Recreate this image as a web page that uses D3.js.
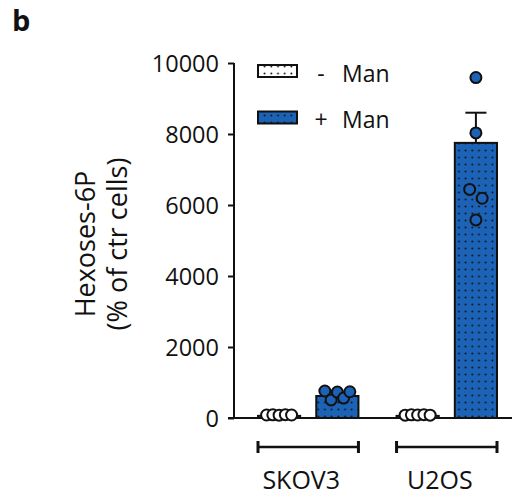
<!DOCTYPE html>
<html>
<head>
<meta charset="utf-8">
<script src="https://cdn.jsdelivr.net/npm/d3@7"></script>
<style>
  body { margin: 0; background: #fff; }
  text { font-family: "Open Sans", "Noto Sans", sans-serif; fill: #111; }
</style>
</head>
<body>
<svg id="chart" width="514" height="497"></svg>
<script>
// Cell lines and treatment conditions
const cellLines = ["SKOV3", "U2OS"];
const conditions = ["- Man", "+ Man"];

// Bar heights (mean) and SEM per cell line, one array per condition
const meanMinusMan = [60, 60];
const meanPlusMan = [620, 7750];
const semMinusMan = [10, 10];
const semPlusMan = [40, 850];

// Individual replicates
const pointsSKOV3Minus = [85, 90, 80, 95, 85];
const pointsSKOV3Plus = [760, 510, 730, 560, 740];
const pointsU2OSMinus = [80, 90, 85, 95, 80];
const pointsU2OSPlus = [9590, 8030, 6440, 6190, 5580];

// Axis ticks
const yTicks = [0, 2000, 4000, 6000, 8000, 10000];

const fills = { "- Man": "#ffffff", "+ Man": "#1c63b7" };

const rows = [
  { line: "SKOV3", cond: "- Man", mean: meanMinusMan[0], sem: semMinusMan[0], pts: pointsSKOV3Minus },
  { line: "SKOV3", cond: "+ Man", mean: meanPlusMan[0], sem: semPlusMan[0], pts: pointsSKOV3Plus },
  { line: "U2OS", cond: "- Man", mean: meanMinusMan[1], sem: semMinusMan[1], pts: pointsU2OSMinus },
  { line: "U2OS", cond: "+ Man", mean: meanPlusMan[1], sem: semPlusMan[1], pts: pointsU2OSPlus }
];

const svg = d3.select("#chart");

const y = d3.scaleLinear().domain([0, 10000]).range([418, 63]);
const x0 = d3.scaleBand().domain(cellLines).range([258, 497]).paddingInner(0.275).paddingOuter(0);
const x1 = d3.scaleBand().domain(conditions).range([0, x0.bandwidth()]).paddingInner(0.276).paddingOuter(0);

// Dotted fill patterns
const defs = svg.append("defs");
conditions.forEach((c, i) => {
  const p = defs.append("pattern")
    .attr("id", "dots" + i)
    .attr("patternUnits", "userSpaceOnUse")
    .attr("width", 6.7).attr("height", 7);
  p.append("rect").attr("width", 6.7).attr("height", 7).attr("fill", fills[c]);
  p.append("circle").attr("cx", 3.3).attr("cy", 3.5).attr("r", 0.95).attr("fill", "#111");
});
const patternFor = c => "url(#dots" + conditions.indexOf(c) + ")";

// Panel letter
svg.append("text").attr("x", 12).attr("y", 31)
  .style("font-size", "29px").style("font-weight", "700").text("b");

// Y axis
const yAxis = d3.axisLeft(y).tickValues(yTicks).tickSize(6).tickPadding(9).tickFormat(d3.format("d"));
const gy = svg.append("g").attr("transform", "translate(234,0)").call(yAxis);
gy.select(".domain").attr("stroke", "#111").attr("stroke-width", 2).attr("d", "M0," + y(10000) + "V" + y(0));
gy.selectAll(".tick line").attr("stroke", "#111").attr("stroke-width", 2);
gy.selectAll(".tick text").style("font-size", "23.5px").attr("fill", "#111")
  .style("font-family", "'Open Sans', sans-serif").attr("dy", "0.34em");

// Baseline
svg.append("line").attr("x1", 228).attr("x2", 512).attr("y1", y(0)).attr("y2", y(0))
  .attr("stroke", "#111").attr("stroke-width", 2);

// Y axis title
const title = svg.append("text").attr("transform", "translate(0,244) rotate(-90)")
  .attr("text-anchor", "middle").style("font-size", "27px");
title.append("tspan").attr("x", 0).attr("y", 95).text("Hexoses-6P");
title.append("tspan").attr("x", 0).attr("y", 127).text("(% of ctr cells)");

// Bars
const bars = svg.append("g");
bars.selectAll("rect").data(rows).join("rect")
  .attr("x", d => x0(d.line) + x1(d.cond))
  .attr("width", x1.bandwidth())
  .attr("y", d => y(d.mean))
  .attr("height", d => y(0) - y(d.mean))
  .attr("fill", d => patternFor(d.cond))
  .attr("stroke", "#111").attr("stroke-width", 2);

// Error bars (mean + SEM)
const err = svg.append("g").attr("stroke", "#111").attr("stroke-width", 2);
rows.forEach(d => {
  const cx = x0(d.line) + x1(d.cond) + x1.bandwidth() / 2;
  const capW = x1.bandwidth() / 4;
  err.append("line").attr("x1", cx).attr("x2", cx).attr("y1", y(d.mean)).attr("y2", y(d.mean + d.sem));
  err.append("line").attr("x1", cx - capW).attr("x2", cx + capW).attr("y1", y(d.mean + d.sem)).attr("y2", y(d.mean + d.sem));
});

// Replicate points, spread sideways when they would overlap
const r = 5.5;
function spread(values) {
  const px = values.map(v => y(v));
  const order = d3.range(values.length).sort((a, b) => px[a] - px[b]);
  const clusters = [];
  let cur = [order[0]];
  for (let k = 1; k < order.length; k++) {
    if (px[order[k]] - px[order[k - 1]] < 2 * r + 1) cur.push(order[k]);
    else { clusters.push(cur); cur = [order[k]]; }
  }
  clusters.push(cur);
  const off = new Array(values.length).fill(0);
  clusters.forEach(cl => {
    if (cl.length < 2) return;
    const members = cl.slice().sort((a, b) => a - b);
    const width = 12.5 * Math.sqrt(members.length - 1);
    members.forEach((m, i) => { off[m] = -width / 2 + i * width / (members.length - 1); });
  });
  return off;
}

const dots = svg.append("g");
rows.forEach(d => {
  const cx = x0(d.line) + x1(d.cond) + x1.bandwidth() / 2;
  const off = spread(d.pts);
  dots.selectAll(null).data(d.pts).join("circle")
    .attr("cx", (v, i) => cx + off[i])
    .attr("cy", v => y(v))
    .attr("r", r)
    .attr("fill", d.cond === "+ Man" ? fills["+ Man"] : "#ffffff")
    .attr("stroke", "#111").attr("stroke-width", 2);
});

// Group brackets and labels
const grp = svg.append("g");
cellLines.forEach(c => {
  const xa = x0(c), xb = x0(c) + x0.bandwidth();
  const yb = 447;
  grp.append("line").attr("x1", xa).attr("x2", xb).attr("y1", yb).attr("y2", yb)
    .attr("stroke", "#111").attr("stroke-width", 2.5);
  [xa, xb].forEach(xx => grp.append("line").attr("x1", xx).attr("x2", xx)
    .attr("y1", yb - 6).attr("y2", yb + 6).attr("stroke", "#111").attr("stroke-width", 3));
  grp.append("text").attr("x", (xa + xb) / 2 - 7).attr("y", 489)
    .attr("text-anchor", "middle").style("font-size", "25px").text(c);
});

// Legend
const legend = svg.append("g");
const legendSigns = ["-", "+"];
conditions.forEach((c, i) => {
  const ly = 65 + i * 46.5;
  legend.append("rect").attr("x", 258).attr("y", ly).attr("width", 39).attr("height", 12)
    .attr("fill", patternFor(c)).attr("stroke", "#111").attr("stroke-width", 2);
  legend.append("text").attr("x", 321).attr("y", ly + 16.5).attr("text-anchor", "middle")
    .style("font-size", "23px").text(legendSigns[i]);
  legend.append("text").attr("x", 342).attr("y", ly + 16.5)
    .style("font-size", "23px").text("Man");
});
</script>
</body>
</html>
